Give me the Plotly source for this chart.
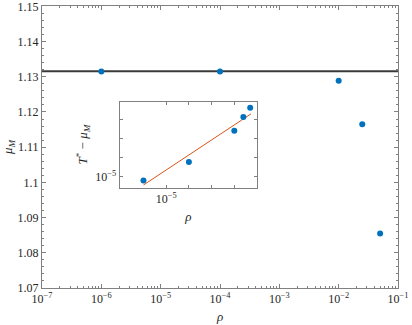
import plotly.graph_objects as go

# --- data ---
rho = [1e-6, 1e-4, 1e-2, 2.5e-2, 5e-2]
mu_M = [1.1315, 1.1315, 1.1289, 1.1165, 1.0855]
T_star = 1.1316

# inset: T* - mu_M vs rho
gap = [6.2e-6, 5.8e-5, 2.6e-3, 1.38e-2, 4.2e-2]
fit_rho = [1e-6, 5.4e-2]
fit_gap = [3.6e-6, 2.0e-2]

x_decades = [-7, -6, -5, -4, -3, -2, -1]
y_ticks = [1.07, 1.08, 1.09, 1.10, 1.11, 1.12, 1.13, 1.14, 1.15]
y_ticktext = ["1.07", "1.08", "1.09", "1.1", "1.11", "1.12", "1.13", "1.14", "1.15"]

BLUE = "#0072BD"
ORANGE = "#D95319"
AXIS = "#808080"
TXT = "#262626"
FONT = "Liberation Serif"


def pow10(e):
    return "10<sup>\u2212%d</sup>" % abs(e)


fig = go.Figure()

fig.add_trace(go.Scatter(
    x=[10.0 ** x_decades[0], 10.0 ** x_decades[-1]], y=[T_star, T_star],
    mode="lines", line=dict(color="#3a3a3a", width=2),
    xaxis="x", yaxis="y", showlegend=False
))
fig.add_trace(go.Scatter(
    x=rho, y=mu_M, mode="markers",
    marker=dict(color=BLUE, size=6),
    xaxis="x", yaxis="y", showlegend=False
))

fig.add_trace(go.Scatter(
    x=fit_rho, y=fit_gap, mode="lines",
    line=dict(color=ORANGE, width=1),
    xaxis="x2", yaxis="y2", showlegend=False
))
fig.add_trace(go.Scatter(
    x=rho, y=gap, mode="markers",
    marker=dict(color=BLUE, size=6),
    xaxis="x2", yaxis="y2", showlegend=False
))

axis_common = dict(
    showline=True, linecolor=AXIS, linewidth=1, mirror="allticks",
    ticks="inside", tickcolor=AXIS, showgrid=False, zeroline=False,
    automargin=False, ticklabeloverflow="allow",
    tickfont=dict(family=FONT, size=12, color=TXT),
)

minor_x = [k * 10.0 ** e for e in x_decades[:-1] for k in range(2, 10)]

fig.update_layout(
    width=412, height=325,
    paper_bgcolor="white", plot_bgcolor="white",
    margin=dict(l=42, r=14, t=6, b=37),
    font=dict(family=FONT, size=12, color=TXT),
    xaxis=dict(
        type="log", range=[x_decades[0], x_decades[-1]],
        tickmode="array", tickvals=[10.0 ** e for e in x_decades],
        ticktext=[pow10(e) for e in x_decades], ticklen=4,
        minor=dict(tickmode="array", tickvals=minor_x, ticks="inside",
                   ticklen=2, tickcolor=AXIS),
        title=dict(text="<i>\u03c1</i>", font=dict(family=FONT, size=13, color=TXT),
                   standoff=6),
        **axis_common
    ),
    yaxis=dict(
        range=[1.07, 1.1501], tickmode="array", tickvals=y_ticks,
        ticktext=y_ticktext, ticklen=4,
        minor=dict(dtick=0.002, ticks="inside", ticklen=2, tickcolor=AXIS),
        title=dict(text="<i>\u03bc<sub>M</sub></i>",
                   font=dict(family=FONT, size=13, color=TXT), standoff=4),
        **axis_common
    ),
    xaxis2=dict(
        type="log", range=[-7.05, -1.0], domain=[0.218, 0.604], anchor="y2",
        tickmode="array", tickvals=[1e-5, 1e-4, 1e-3, 1e-2],
        ticktext=[pow10(-5), "", "", ""], ticklen=3,
        title=dict(text="<i>\u03c1</i>", font=dict(family=FONT, size=13, color=TXT),
                   standoff=6),
        **axis_common
    ),
    yaxis2=dict(
        type="log", range=[-5.58, -1.05], domain=[0.356, 0.661], anchor="x2",
        tickmode="array", tickvals=[1e-5, 1e-4, 1e-3, 1e-2],
        ticktext=[pow10(-5), "", "", ""], ticklen=3,
        title=dict(text="<i>T</i><sup>*</sup> \u2212 <i>\u03bc<sub>M</sub></i>",
                   font=dict(family=FONT, size=13, color=TXT), standoff=4),
        **axis_common
    ),
)

# drop the browser's default body margin so the 412x325 figure fills the window
fig.write_html("out.html", config={"displayModeBar": False},
               post_script="document.body.style.margin='0';")
